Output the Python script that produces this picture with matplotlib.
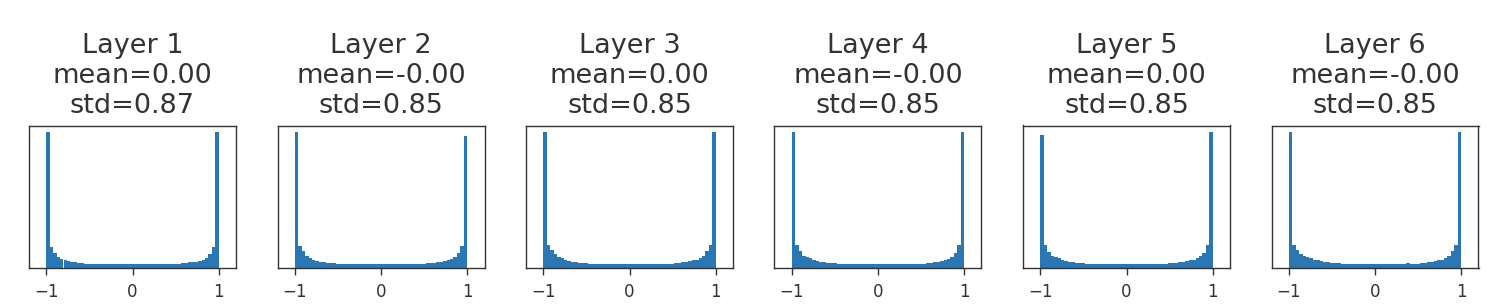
import numpy as np
import matplotlib
matplotlib.use("Agg")
import matplotlib.pyplot as plt

layer_names = ["Layer 1", "Layer 2", "Layer 3", "Layer 4", "Layer 5", "Layer 6"]
means = ["0.00", "-0.00", "0.00", "-0.00", "0.00", "-0.00"]
stds = ["0.87", "0.85", "0.85", "0.85", "0.85", "0.85"]

# histogram bin edges: 50 bins on [-1, 1]
bin_edges = np.linspace(-1, 1, 51)

# bar heights (relative counts), left to right
layer1 = [1.00, 0.15, 0.11, 0.08, 0.065, 0.055, 0.047, 0.042, 0.040, 0.038,
          0.035, 0.030, 0.028, 0.027, 0.027, 0.027, 0.027, 0.027, 0.027, 0.027,
          0.027, 0.027, 0.027, 0.027, 0.027, 0.027, 0.027, 0.027, 0.027, 0.027,
          0.027, 0.027, 0.027, 0.027, 0.027, 0.027, 0.027, 0.028, 0.030, 0.035,
          0.038, 0.040, 0.042, 0.045, 0.050, 0.060, 0.075, 0.100, 0.150, 1.00]
layer2 = [1.00, 0.16, 0.12, 0.09, 0.07, 0.06, 0.05, 0.045, 0.040, 0.038,
          0.035, 0.033, 0.030, 0.030, 0.030, 0.028, 0.028, 0.028, 0.028, 0.025,
          0.030, 0.025, 0.025, 0.025, 0.025, 0.025, 0.025, 0.025, 0.025, 0.025,
          0.025, 0.025, 0.025, 0.025, 0.025, 0.025, 0.030, 0.030, 0.032, 0.035,
          0.038, 0.040, 0.045, 0.050, 0.055, 0.065, 0.080, 0.110, 0.160, 0.97]
layer3 = [1.00, 0.17, 0.13, 0.10, 0.08, 0.07, 0.06, 0.05, 0.045, 0.040,
          0.038, 0.035, 0.033, 0.030, 0.030, 0.028, 0.028, 0.028, 0.028, 0.028,
          0.028, 0.025, 0.025, 0.025, 0.025, 0.025, 0.025, 0.025, 0.025, 0.025,
          0.025, 0.025, 0.025, 0.028, 0.030, 0.030, 0.030, 0.030, 0.033, 0.035,
          0.040, 0.045, 0.050, 0.055, 0.060, 0.075, 0.090, 0.120, 0.170, 1.00]
layer4 = [1.00, 0.17, 0.12, 0.09, 0.08, 0.07, 0.06, 0.05, 0.045, 0.040,
          0.038, 0.035, 0.033, 0.030, 0.030, 0.030, 0.030, 0.028, 0.028, 0.025,
          0.025, 0.025, 0.025, 0.025, 0.025, 0.025, 0.025, 0.025, 0.025, 0.025,
          0.025, 0.025, 0.025, 0.025, 0.030, 0.025, 0.030, 0.025, 0.030, 0.033,
          0.035, 0.040, 0.045, 0.050, 0.055, 0.065, 0.080, 0.110, 0.170, 1.00]
layer5 = [1.00, 0.17, 0.12, 0.09, 0.08, 0.07, 0.06, 0.05, 0.045, 0.040,
          0.038, 0.035, 0.033, 0.030, 0.028, 0.028, 0.028, 0.028, 0.028, 0.028,
          0.025, 0.025, 0.025, 0.025, 0.025, 0.025, 0.025, 0.025, 0.025, 0.025,
          0.025, 0.025, 0.025, 0.028, 0.030, 0.030, 0.030, 0.033, 0.035, 0.038,
          0.040, 0.045, 0.050, 0.055, 0.060, 0.070, 0.085, 0.110, 0.170, 1.02]
layer6 = [1.00, 0.17, 0.13, 0.10, 0.09, 0.08, 0.07, 0.06, 0.055, 0.050,
          0.045, 0.040, 0.038, 0.035, 0.033, 0.030, 0.030, 0.030, 0.028, 0.028,
          0.028, 0.025, 0.025, 0.025, 0.025, 0.025, 0.025, 0.025, 0.025, 0.025,
          0.025, 0.025, 0.025, 0.028, 0.035, 0.028, 0.030, 0.030, 0.033, 0.035,
          0.040, 0.045, 0.050, 0.055, 0.060, 0.075, 0.090, 0.120, 0.170, 1.00]
layers = [layer1, layer2, layer3, layer4, layer5, layer6]

fig = plt.figure(figsize=(15.09, 3.04), dpi=100)
left0 = 29 / 1509
step = 248.5 / 1509
width = 207 / 1509
bottom = 36.3 / 304
height = 142.2 / 304

centers = 0.5 * (bin_edges[:-1] + bin_edges[1:])
for i, (name, m, s, h) in enumerate(zip(layer_names, means, stds, layers)):
    ax = fig.add_axes([left0 + i * step, bottom, width, height])
    ax.hist(centers, bins=bin_edges, weights=h, color="#2a77b6")
    ax.set_xlim(-1.2, 1.2)
    ax.set_yticks([])
    ax.set_xticks([-1, 0, 1])
    ax.tick_params(axis="x", labelsize=12, length=5, width=1, pad=6,
                   labelcolor="#333333", color="#333333")
    for sp in ax.spines.values():
        sp.set_color("#333333")
        sp.set_linewidth(1.0)
    ax.set_title(f"{name}\nmean={m}\nstd={s}", fontsize=19.5, color="#333333",
                 pad=9, linespacing=1.2)

fig.savefig("out.png", dpi=100)
